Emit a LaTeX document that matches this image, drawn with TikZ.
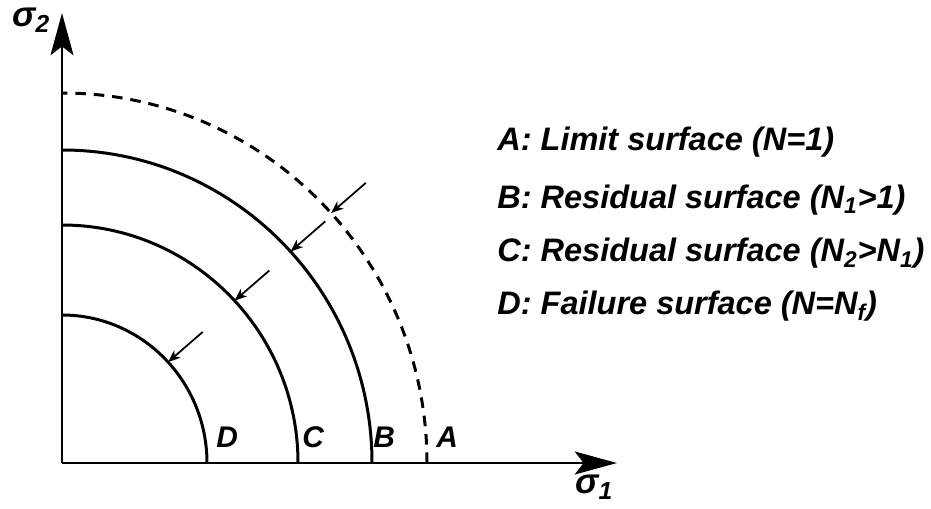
\documentclass[tikz,border=0pt]{standalone}
\usepackage{fontspec}
\setmainfont{Liberation Sans}
\usetikzlibrary{arrows.meta}

\begin{document}
\begin{tikzpicture}[
  x=0.02cm, y=0.02cm,
  every node/.style={inner sep=0pt, font=\bfseries\itshape},
  axis/.style={line width=1.7pt, -{Stealth[length=24pt, width=13pt, inset=5pt]}},
  surface/.style={line width=1.7pt},
  limit/.style={surface, dash pattern=on 6pt off 4.5pt},
  shrink/.style={line width=1pt, -{Stealth[length=7pt, width=5.5pt, inset=2pt]}},
  legend/.style={anchor=base west, font=\fontsize{18.5}{22}\selectfont\bfseries\itshape},
  foot/.style={anchor=south west, font=\fontsize{17}{20}\selectfont\bfseries\itshape},
  axlabel/.style={anchor=north west, font=\fontsize{20}{24}\selectfont\bfseries\itshape}
]
\useasboundingbox (-62,-45) rectangle (869,463);

\coordinate (O) at (0,0);
\coordinate (s1) at (555,0);
\coordinate (s2) at (0,450);

% surfaces
\draw[limit] (365,0) arc[start angle=0, end angle=90, x radius=365, y radius=370];
\draw[surface] (310,0) arc[start angle=0, end angle=90, x radius=310, y radius=313];
\draw[surface] (236,0) arc[start angle=0, end angle=90, x radius=236, y radius=238];
\draw[surface] (145,0) arc[start angle=0, end angle=90, x radius=145, y radius=148];

% axes
\draw[axis] (O) -- (s1);
\draw[axis] (O) -- (s2);
\node[axlabel] (sig1) at (513,-12) {σ\textsubscript{1}};
\node[axlabel] (sig2) at (-50,455) {σ\textsubscript{2}};

% shrinking arrows
\coordinate (tA) at (42.5:365 and 370);
\coordinate (tB) at (42.5:310 and 313);
\coordinate (tC) at (43:236 and 238);
\coordinate (tD) at (43:145 and 148);
\coordinate (fA) at ([shift={(41:46)}]tA);
\coordinate (fB) at ([shift={(41:46)}]tB);
\coordinate (fC) at ([shift={(41:46)}]tC);
\coordinate (fD) at ([shift={(41:46)}]tD);
\draw[shrink] (fA) -- (tA);
\draw[shrink] (fB) -- (tB);
\draw[shrink] (fC) -- (tC);
\draw[shrink] (fD) -- (tD);

% feet labels
\node[foot] (lD) at (154,15) {D};
\node[foot] (lC) at (240,15) {C};
\node[foot] (lB) at (311,15) {B};
\node[foot] (lA) at (374,15) {A};

% legend
\node[legend] (legA) at (435,313) {A: Limit surface (N=1)};
\node[legend] (legB) at (435,255) {B: Residual surface (N\textsubscript{1}>1)};
\node[legend] (legC) at (435,201) {C: Residual surface (N\textsubscript{2}>N\textsubscript{1})};
\node[legend] (legD) at (435,149) {D: Failure surface (N=N\textsubscript{f})};
\end{tikzpicture}
\end{document}
